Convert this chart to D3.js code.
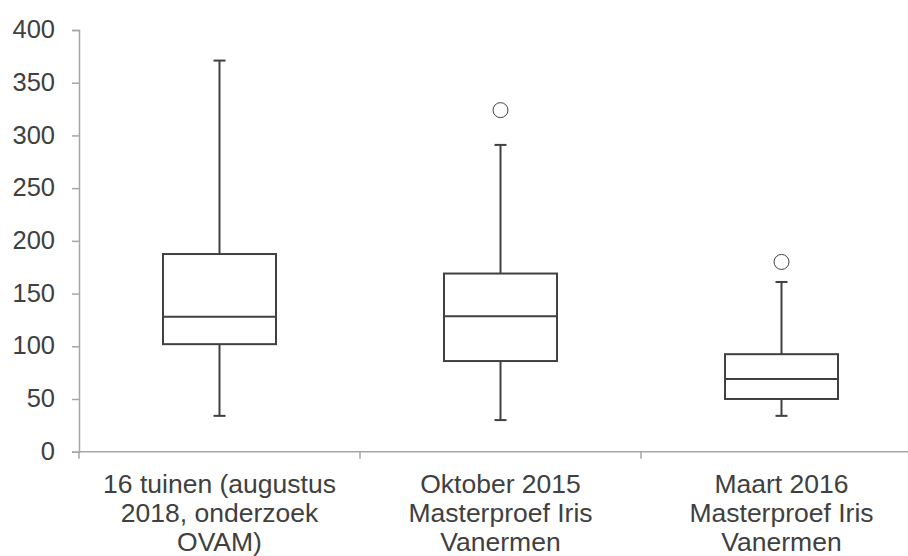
<!DOCTYPE html>
<html><head><meta charset="utf-8">
<script src="https://cdn.jsdelivr.net/npm/d3@7"></script>
<style>body{margin:0;background:#fff}svg{display:block}</style>
</head><body>
<script>
const categories = [
  ["16 tuinen (augustus", "2018, onderzoek", "OVAM)"],
  ["Oktober 2015", "Masterproef Iris", "Vanermen"],
  ["Maart 2016", "Masterproef Iris", "Vanermen"]
];
const mins    = [34, 30, 34];
const q1s     = [102, 86, 50];
const medians = [128, 128.5, 69];
const q3s     = [187.5, 169, 92.5];
const maxs    = [371, 291, 161];
const outliers = [[], [324], [180]];
const yTicks = [0, 50, 100, 150, 200, 250, 300, 350, 400];

const W = 908, H = 556;
const font = "Liberation Sans, Arial, sans-serif";
const svg = d3.select("body").append("svg").attr("width", W).attr("height", H);
const x = d3.scaleBand().domain(d3.range(categories.length)).range([79, 922]).paddingInner(0).paddingOuter(0);
const y = d3.scaleLinear().domain([0, 400]).range([451.7, 30]);

const textColor = "#404040", axisColor = "#a6a6a6", boxColor = "#404040";

// Y axis
const ya = svg.append("g").attr("transform", "translate(79,0)")
  .call(d3.axisLeft(y).tickValues(yTicks).tickSize(7).tickPadding(17));
ya.select(".domain").attr("stroke", axisColor).attr("stroke-width", 1.5);
ya.selectAll(".tick line").attr("stroke", axisColor).attr("stroke-width", 1.5);
ya.selectAll(".tick text").attr("fill", textColor).attr("font-family", font).attr("font-size", "25.5px").attr("dy", "0.3em");

// X axis
const xa = svg.append("g").attr("transform", `translate(0,${y(0)})`);
xa.append("line").attr("x1", 79).attr("x2", 908).attr("stroke", axisColor).attr("stroke-width", 1.5);
const xTickPos = d3.range(categories.length + 1).map(i => i < categories.length ? x(i) : x(i - 1) + x.bandwidth());
xa.selectAll("line.xt").data(xTickPos).join("line").attr("class", "xt")
  .attr("x1", d => d).attr("x2", d => d).attr("y1", 0).attr("y2", 7)
  .attr("stroke", axisColor).attr("stroke-width", 1.5);
categories.forEach((lines, i) => {
  const t = xa.append("text").attr("text-anchor", "middle")
    .attr("fill", textColor).attr("font-family", font).attr("font-size", "26.5px");
  lines.forEach((l, j) => t.append("tspan").attr("x", x(i) + x.bandwidth() / 2).attr("y", 41.5 + j * 29).text(l));
});

// Boxes
const bw = 113, cap = 12;
const g = svg.append("g").attr("stroke", boxColor).attr("stroke-width", 2).attr("fill", "none");
categories.forEach((c, i) => {
  const cx = x(i) + x.bandwidth() / 2;
  g.append("line").attr("x1", cx).attr("x2", cx).attr("y1", y(maxs[i])).attr("y2", y(q3s[i]));
  g.append("line").attr("x1", cx).attr("x2", cx).attr("y1", y(q1s[i])).attr("y2", y(mins[i]));
  g.append("line").attr("x1", cx - cap / 2).attr("x2", cx + cap / 2).attr("y1", y(maxs[i])).attr("y2", y(maxs[i]));
  g.append("line").attr("x1", cx - cap / 2).attr("x2", cx + cap / 2).attr("y1", y(mins[i])).attr("y2", y(mins[i]));
  g.append("rect").attr("x", cx - bw / 2).attr("width", bw).attr("y", y(q3s[i])).attr("height", y(q1s[i]) - y(q3s[i])).attr("fill", "#fff");
  g.append("line").attr("x1", cx - bw / 2).attr("x2", cx + bw / 2).attr("y1", y(medians[i])).attr("y2", y(medians[i]));
  outliers[i].forEach(o => {
    svg.append("circle").attr("cx", cx).attr("cy", y(o)).attr("r", 7.5)
      .attr("fill", "#fff").attr("stroke", "#404040").attr("stroke-width", 1);
  });
});
</script>
</body></html>
